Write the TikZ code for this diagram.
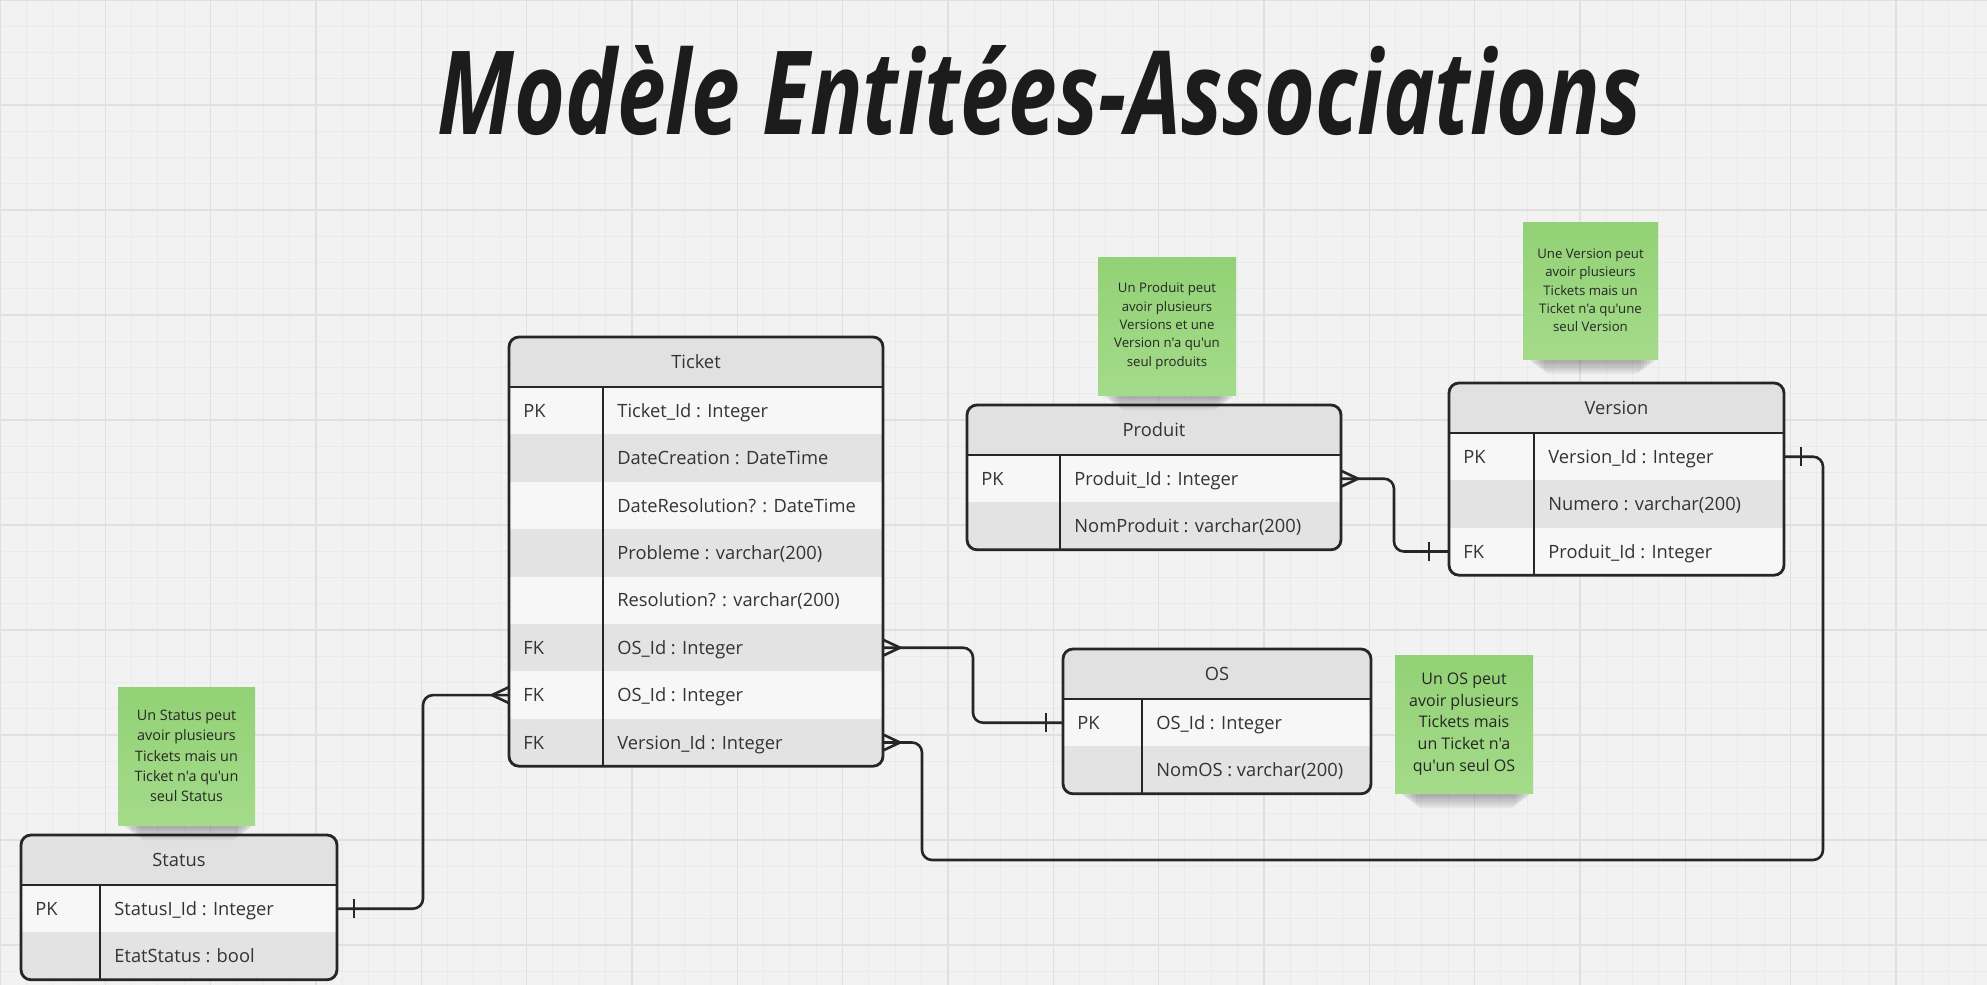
\documentclass[tikz,border=0pt]{standalone}
\usepackage{fontspec}
\setmainfont{Open Sans}
\newfontfamily\osans{Open Sans}
\usetikzlibrary{calc}
\definecolor{bg}{HTML}{F2F2F2}
\definecolor{gridminor}{HTML}{EAEAEA}
\definecolor{gridmajor}{HTML}{E0E0E0}
\definecolor{hdfill}{HTML}{E1E1E1}
\definecolor{rowA}{HTML}{F7F7F7}
\definecolor{rowB}{HTML}{E3E3E3}
\definecolor{edge}{HTML}{262626}
\definecolor{txt}{HTML}{333333}
\definecolor{noteTop}{RGB}{146,209,117}
\definecolor{noteBot}{RGB}{164,219,138}
\tikzset{
  border/.style={draw=edge, line width=1.4pt},
  conn/.style={draw=edge, line width=1.3pt, rounded corners=5pt},
  cardmark/.style={draw=edge, line width=1.3pt},
  celltext/.style={font=\osans\fontsize{9.15pt}{11pt}\selectfont, text=txt, inner sep=0pt},
  rowbox/.style={inner sep=0pt, outer sep=0pt},
  sticky/.style={top color=noteTop, bottom color=noteBot, inner sep=0pt, align=center, text=black!85},
}
\newcommand\ertable[8]{%
  \pgfmathsetmacro\erH{50+47.4*#6}%
  \begin{scope}
    \clip[rounded corners=5pt] (#2,#3) rectangle ++(#4,\erH);
    \fill[hdfill] (#2,#3) rectangle ++(#4,50);
    \foreach \k/\v [count=\i] in {#8} {%
      \pgfmathsetmacro\ry{#3+50+47.4*(\i-1)}%
      \ifodd\i \def\rf{rowA}\else \def\rf{rowB}\fi
      \fill[fill=\rf] (#2,\ry) rectangle ++(#4,47.4);
      \node[rowbox, minimum width=#4*0.5pt, minimum height=23.7pt] (#1-\i) at (#2+#4/2,\ry+23.7) {};
      \node[celltext, anchor=base west] at (#2+14,\ry+30.2) {\k};
      \node[celltext, anchor=base west] at (#2+#5+14,\ry+30.2) {\v};
    }
  \end{scope}
  \node[celltext, anchor=base] (#1) at (#2+#4/2,#3+31.5) {#7};
  \draw[border, rounded corners=5pt] (#2,#3) rectangle ++(#4,\erH);
  \draw[border] (#2,#3+50) -- ++(#4,0);
  \draw[border] (#2+#5,#3+50) -- (#2+#5,#3+\erH);
}
\newcommand\stickynote[8]{% name, left, top, right, bottom, fontsize, baselineskip, text
  \foreach \s in {0,...,5} {
    \fill[black, opacity=0.05, rounded corners=3pt] (#2+6+3*\s,#5-6) rectangle (#4-2-3*\s,#5+4+2.2*\s);
  }
  \node[sticky, minimum width=(#4-#2)*0.5pt, minimum height=(#5-#3)*0.5pt,
        font=\osans\fontsize{#6}{#7}\selectfont] (#1) at ({(#2+#4)/2},{(#3+#5)/2}) {#8};
}
\newcommand\crowR[1]{\draw[cardmark] ($(#1)+(0,-8)$) -- ($(#1)+(17,0)$) -- ($(#1)+(0,8)$);}
\newcommand\crowL[1]{\draw[cardmark] ($(#1)+(0,-8)$) -- ($(#1)+(-17,0)$) -- ($(#1)+(0,8)$);}
\newcommand\tickAt[2]{\draw[cardmark] ($(#1)+(#2,-9.5)$) -- ($(#1)+(#2,9.5)$);}
\begin{document}
\begin{tikzpicture}[x=0.5pt,y=-0.5pt]
\useasboundingbox (0,0) rectangle (1987,985);
\fill[bg] (0,0) rectangle (1987,985);
% grid
\foreach \i in {0,...,76} \draw[gridminor, line width=0.5pt] (\i*26.333,0) -- (\i*26.333,985);
\foreach \j in {0,...,38} \draw[gridminor, line width=0.5pt] (0,\j*26.25) -- (1987,\j*26.25);
\foreach \i in {0,...,19} \draw[gridmajor, line width=0.7pt] (\i*105.33,0) -- (\i*105.33,985);
\foreach \j in {0,...,9} \draw[gridmajor, line width=0.7pt] (0,\j*105) -- (1987,\j*105);
% title
\node[anchor=base west, inner sep=0pt, text={rgb,255:red,28;green,28;blue,28}] (title) at (437,134)
  {\resizebox{602pt}{44.5pt}{\osans\bfseries\itshape Modèle Entitées-Associations}};
% tables
\ertable{ticket}{509}{337}{374}{94}{8}{Ticket}{PK/Ticket\_Id : Integer, /DateCreation : DateTime, /DateResolution? : DateTime, /Probleme : varchar(200), /Resolution? : varchar(200), FK/OS\_Id : Integer, FK/OS\_Id : Integer, FK/Version\_Id : Integer}
\ertable{produit}{967}{405}{374}{93}{2}{Produit}{PK/Produit\_Id : Integer, /NomProduit : varchar(200)}
\ertable{version}{1449}{383}{335}{85}{3}{Version}{PK/Version\_Id : Integer, /Numero : varchar(200), FK/Produit\_Id : Integer}
\ertable{os}{1063}{649}{308}{79}{2}{OS}{PK/OS\_Id : Integer, /NomOS : varchar(200)}
\ertable{status}{21}{835}{316}{79}{2}{Status}{PK/StatusI\_Id : Integer, /EtatStatus : bool}
% bend coordinates
\coordinate (b1) at (973,0);
\coordinate (b2) at (1394,0);
\coordinate (b3a) at (922,860);
\coordinate (b3b) at (1823,860);
\coordinate (b4) at (423,0);
% connectors
\draw[conn] (ticket-6.east) -| (b1 |- os-1.west) -- (os-1.west);
\draw[conn] (produit-1.east) -| (b2 |- version-3.west) -- (version-3.west);
\draw[conn] (ticket-8.east) -| (b3a) -| (b3b |- version-1.east) -- (version-1.east);
\draw[conn] (status-1.east) -| (b4 |- ticket-7.west) -- (ticket-7.west);
% cardinality marks
\crowR{ticket-6.east}
\tickAt{os-1.west}{-17}
\crowR{produit-1.east}
\tickAt{version-3.west}{-20}
\crowR{ticket-8.east}
\tickAt{version-1.east}{17}
\tickAt{status-1.east}{17}
\crowL{ticket-7.west}
% sticky notes
\stickynote{noteProduit}{1098}{257}{1236}{395}{6.6pt}{9.15pt}{Un Produit peut\\avoir plusieurs\\Versions et une\\Version n'a qu'un\\seul produits}
\stickynote{noteVersion}{1523}{222}{1658}{359}{6.6pt}{9.15pt}{Une Version peut\\avoir plusieurs\\Tickets mais un\\Ticket n'a qu'une\\seul Version}
\stickynote{noteStatus}{118}{687}{255}{825}{7.2pt}{10.15pt}{Un Status peut\\avoir plusieurs\\Tickets mais un\\Ticket n'a qu'un\\seul Status}
\stickynote{noteOS}{1395}{655}{1533}{793}{8pt}{10.85pt}{Un OS peut\\avoir plusieurs\\Tickets mais\\un Ticket n'a\\qu'un seul OS}
\end{tikzpicture}
\end{document}
